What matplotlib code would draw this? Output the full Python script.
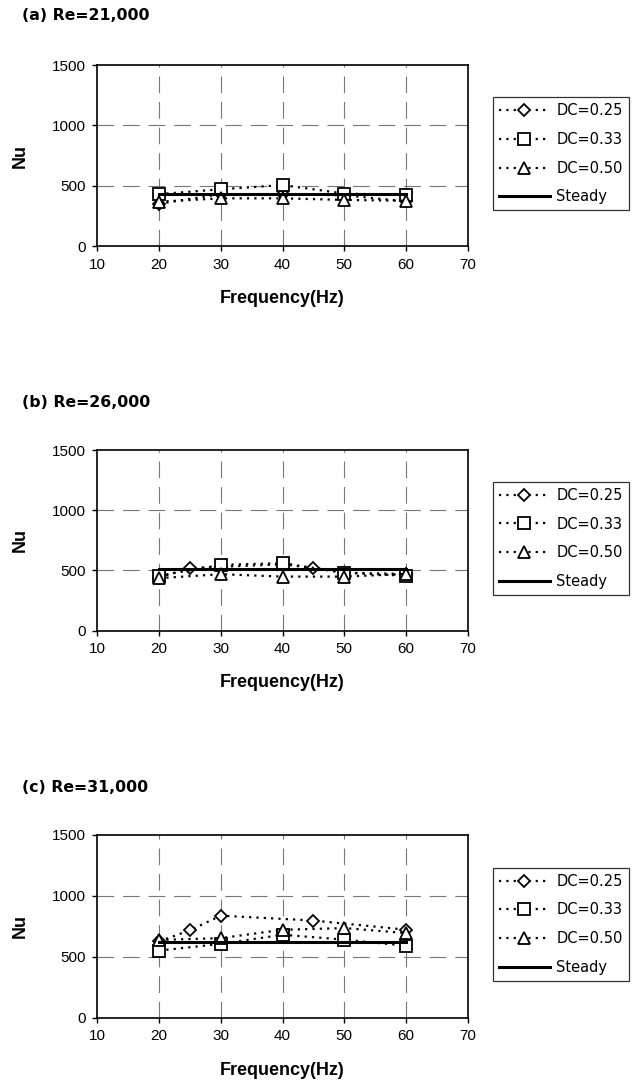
import matplotlib
matplotlib.use("Agg")
import matplotlib.pyplot as plt

plt.rcParams['font.family'] = ['Liberation Sans', 'DejaVu Sans']

# frequencies (Hz)
freq = [20, 30, 40, 50, 60]
freq_25_a = [20, 30, 40, 50, 60]
freq_25_b = [20, 25, 30, 40, 45, 50, 60]
freq_25_c = [20, 25, 30, 45, 60]

# (a) Re=21,000
dc25_a = [350, 430, 430, 420, 370]
dc33_a = [430, 470, 505, 435, 422]
dc50_a = [367, 395, 395, 382, 375]
steady_a = [430, 430, 430, 430, 430]

# (b) Re=26,000
dc25_b = [440, 520, 530, 550, 520, 480, 470]
dc33_b = [455, 545, 560, 480, 455]
dc50_b = [435, 468, 448, 448, 470]
steady_b = [510, 510, 510, 510, 510]

# (c) Re=31,000
dc25_c = [625, 717, 837, 797, 722]
dc33_c = [550, 605, 680, 640, 590]
dc50_c = [638, 652, 721, 735, 694]
steady_c = [620, 620, 620, 620, 620]

titles = ["(a) Re=21,000", "(b) Re=26,000", "(c) Re=31,000"]
labels = ["DC=0.25", "DC=0.33", "DC=0.50", "Steady"]

W, H = 638, 1085
fig = plt.figure(figsize=(W / 100, H / 100), dpi=100)


def panel(top, bottom, title_y, x25, y25, y33, y50, ys, title):
    left, right = 97.3, 467.7
    ax = fig.add_axes([left / W, 1 - bottom / H, (right - left) / W, (bottom - top) / H])
    dot = (0, (1, 2.3))
    ax.plot(x25, y25, linestyle=dot, color='black', lw=1.6, marker='D', ms=5.7,
            mfc='white', mec='black', mew=1.3, label=labels[0])
    ax.plot(freq, y33, linestyle=dot, color='black', lw=1.6, marker='s', ms=8,
            mfc='white', mec='black', mew=1.3, label=labels[1])
    ax.plot(freq, y50, linestyle=dot, color='black', lw=1.6, marker='^', ms=8,
            mfc='white', mec='black', mew=1.3, label=labels[2])
    ax.plot(freq, ys, color='black', lw=2.2, label=labels[3])

    ax.set_xlim(10, 70)
    ax.set_ylim(0, 1500)
    ax.set_xticks([10, 20, 30, 40, 50, 60, 70])
    ax.set_yticks([0, 500, 1000, 1500])
    for v in [20, 30, 40, 50, 60]:
        ax.axvline(v, color='#777777', lw=0.8, linestyle=(0, (15, 8)), zorder=0)
    for v in [500, 1000]:
        ax.axhline(v, color='#777777', lw=0.8, linestyle=(0, (15, 8)), zorder=0)
    for s in ax.spines.values():
        s.set_linewidth(1.2)
    ax.tick_params(direction='out', length=3.5, width=1, labelsize=11, pad=5)

    ax.set_xlabel("Frequency(Hz)", fontsize=13, fontweight='bold')
    ax.xaxis.set_label_coords(0.5, -(290 - 246) / 181)
    ax.xaxis.label.set_va('top')
    ax.set_ylabel("Nu", fontsize=13, fontweight='bold')
    ax.yaxis.set_label_coords(-(97.3 - 20) / 370.4, 0.5)
    ax.yaxis.label.set_va('center')

    leg = ax.legend(loc='center left', bbox_to_anchor=((493 - 97.3) / 370.4, 0.51),
                    prop={'family': 'DejaVu Sans', 'size': 10.5}, numpoints=1,
                    handlelength=3.5, handletextpad=0.45, labelspacing=0.95,
                    borderpad=0.4, borderaxespad=0, fancybox=False, frameon=True)
    leg.get_frame().set_edgecolor('black')
    leg.get_frame().set_linewidth(0.9)

    fig.text(22 / W, 1 - title_y / H, title, fontsize=11.3, fontweight='bold',
             family='DejaVu Sans', ha='left', va='center')


panel(65, 246, 16, freq_25_a, dc25_a, dc33_a, dc50_a, steady_a, titles[0])
panel(450, 630.5, 402.5, freq_25_b, dc25_b, dc33_b, dc50_b, steady_b, titles[1])
panel(835, 1017.5, 787, freq_25_c, dc25_c, dc33_c, dc50_c, steady_c, titles[2])

plt.savefig("out.png", dpi=100)
